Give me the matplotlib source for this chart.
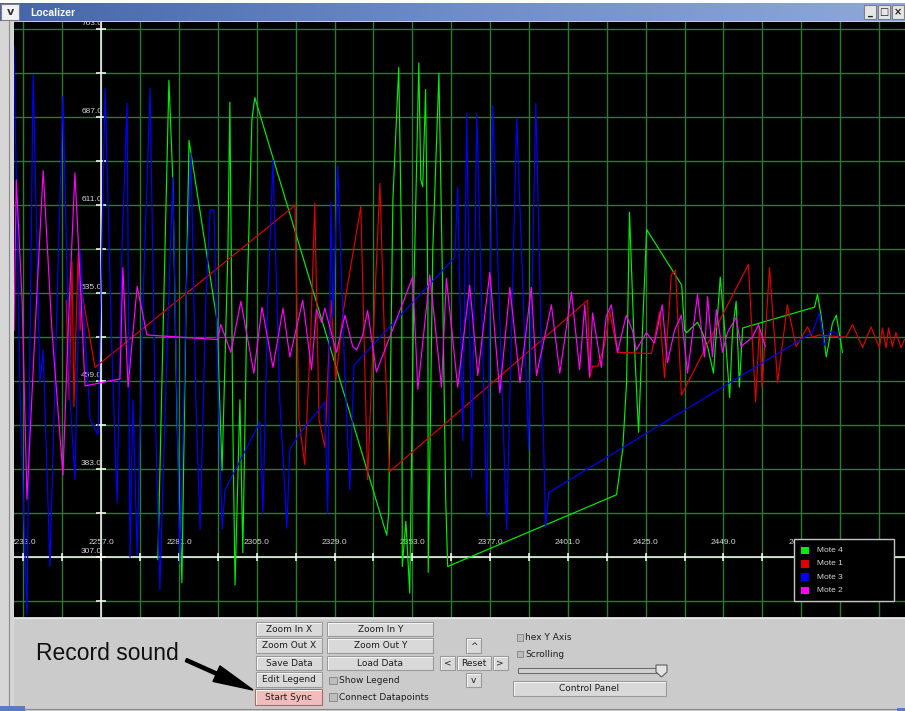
import numpy as np
import matplotlib
matplotlib.use('Agg')
import matplotlib.pyplot as plt
from matplotlib.patches import Rectangle, Polygon, FancyArrow
from matplotlib.colors import LinearSegmentedColormap

mote4_t = [2274.5, 2276.1, 2277.9, 2279.1, 2280.4, 2281.9, 2283.2, 2284.1, 2292.7, 2294.3,
           2296.1, 2296.7, 2297.6, 2298.3, 2299.8, 2300.7, 2302.0, 2303.5, 2304.4, 2345.1,
           2345.7, 2347.0, 2348.8, 2349.7, 2349.9, 2351.0, 2352.2, 2353.4, 2355.0, 2355.6,
           2356.2, 2357.1, 2357.8, 2357.9, 2359.3, 2361.2, 2362.4, 2363.3, 2363.9, 2416.0,
           2417.9, 2419.1, 2420.0, 2421.3, 2422.8, 2424.0, 2425.3, 2436.1, 2437.0, 2437.6,
           2441.0, 2442.5, 2444.1, 2445.9, 2448.0, 2449.8, 2450.9, 2451.8, 2452.9, 2453.9,
           2454.9, 2477.1, 2478.0, 2479.1, 2480.7, 2482.6, 2483.8, 2485.7]
mote4_v = [305, 503, 719, 633, 426, 285, 529, 667, 512, 382,
           572, 700, 426, 283, 443, 311, 529, 685, 704, 326,
           345, 616, 730, 572, 299, 338, 276, 529, 734, 633,
           627, 711, 529, 294, 572, 725, 529, 357, 299, 361,
           400, 458, 605, 503, 415, 503, 590, 542, 503, 501,
           510, 501, 489, 466, 549, 489, 445, 503, 528, 454,
           505, 523, 534, 516, 480, 509, 516, 484]

mote1_t = [2246.2, 2247.1, 2248.0, 2248.6, 2249.2, 2249.9, 2250.5, 2251.1, 2255.1, 2316.8,
           2318.0, 2319.8, 2321.7, 2322.9, 2324.2, 2326.0, 2327.9, 2329.4, 2331.6, 2337.1,
           2339.2, 2341.4, 2343.0, 2344.5, 2346.0, 2407.1, 2407.7, 2408.6, 2410.2, 2412.3,
           2413.9, 2416.3, 2426.8, 2429.3, 2430.8, 2432.9, 2434.2, 2436.0, 2456.7, 2457.9,
           2458.9, 2460.1, 2460.9, 2463.2, 2465.7, 2468.7, 2471.4, 2474.9, 2476.4, 2478.6,
           2486.8, 2488.8, 2491.9, 2494.5, 2497.1, 2498.0, 2499.2, 2499.9, 2501.1, 2502.2,
           2503.8, 2504.8]
mote1_v = [529, 443, 562, 437, 503, 570, 503, 535, 471, 611,
           426, 387, 503, 613, 426, 402, 529, 460, 518, 610,
           374, 529, 630, 486, 381, 529, 462, 472, 472, 490,
           519, 484, 483, 519, 462, 551, 555, 447, 560, 495,
           441, 506, 454, 557, 458, 525, 489, 506, 497, 499,
           497, 508, 488, 506, 488, 505, 488, 505, 489, 501,
           488, 495]

mote3_t = [2230.1, 2232.0, 2234.1, 2236.0, 2238.1, 2239.1, 2241.2, 2243.4, 2245.2, 2247.4,
           2248.9, 2250.5, 2251.7, 2253.6, 2256.0, 2258.2, 2260.3, 2261.9, 2263.4, 2265.0,
           2265.9, 2266.8, 2268.1, 2269.9, 2272.1, 2273.6, 2275.1, 2277.3, 2279.1, 2281.3,
           2283.2, 2284.7, 2286.2, 2287.5, 2289.3, 2290.6, 2291.8, 2293.0, 2294.3, 2295.2,
           2306.0, 2306.9, 2308.4, 2310.0, 2312.1, 2314.3, 2315.2, 2318.3, 2326.0, 2326.9,
           2327.9, 2328.5, 2330.0, 2331.9, 2333.7, 2335.0, 2366.1, 2367.0, 2368.6, 2369.8,
           2371.3, 2372.9, 2376.0, 2377.8, 2382.1, 2385.2, 2388.9, 2391.1, 2394.1, 2395.1,
           2476.4, 2478.6, 2480.1, 2481.7, 2483.2, 2484.8]
mote3_v = [748, 443, 257, 724, 458, 486, 299, 529, 705, 443,
           374, 572, 512, 426, 413, 712, 486, 354, 572, 699,
           307, 443, 309, 529, 712, 443, 279, 486, 635, 302,
           529, 656, 443, 331, 529, 607, 607, 460, 331, 365,
           424, 345, 529, 650, 443, 332, 400, 414, 441, 345,
           614, 514, 645, 486, 365, 473, 566, 627, 408, 691,
           376, 690, 342, 697, 331, 686, 400, 699, 333, 363,
           501, 518, 490, 501, 502, 497]

mote2_t = [2230.1, 2230.8, 2232.6, 2234.1, 2236.6, 2239.1, 2241.8, 2245.2, 2246.8, 2248.9,
           2250.5, 2252.0, 2262.8, 2263.7, 2265.3, 2268.1, 2271.1, 2293.0, 2293.9, 2297.0,
           2300.1, 2304.1, 2306.6, 2310.0, 2313.1, 2315.2, 2319.2, 2321.9, 2323.4, 2325.0,
           2326.0, 2329.6, 2332.2, 2334.6, 2335.8, 2337.7, 2339.2, 2341.9, 2353.1, 2354.7,
           2358.4, 2362.0, 2363.5, 2367.0, 2370.7, 2373.2, 2376.9, 2380.0, 2383.1, 2386.2,
           2389.7, 2391.3, 2395.9, 2398.5, 2402.1, 2404.6, 2406.2, 2407.7, 2408.6, 2411.3,
           2412.8, 2414.4, 2416.3, 2419.0, 2420.9, 2422.1, 2425.2, 2427.7, 2430.1, 2431.7,
           2433.9, 2436.0, 2437.9, 2441.0, 2443.1, 2444.1, 2445.6, 2446.8, 2448.7, 2450.2,
           2452.9, 2454.4, 2457.9, 2459.8, 2461.9]
mote2_v = [503, 633, 529, 357, 503, 641, 503, 378, 503, 639,
           547, 455, 461, 557, 454, 541, 499, 495, 508, 484,
           528, 466, 523, 471, 522, 480, 529, 469, 521, 510,
           522, 484, 516, 489, 486, 499, 520, 467, 549, 452,
           551, 454, 548, 454, 542, 464, 553, 449, 540, 458,
           540, 464, 525, 466, 536, 469, 525, 463, 518, 471,
           515, 525, 484, 516, 503, 486, 501, 492, 525, 475,
           503, 516, 466, 534, 480, 532, 480, 521, 484, 501,
           514, 489, 497, 508, 489]

legend_names = ['Mote 4', 'Mote 1', 'Mote 3', 'Mote 2']
legend_colors = ['#00ee00', '#e00000', '#0000ff', '#ff00ff']

x_label_vals = [2233, 2257, 2281, 2305, 2329, 2353, 2377, 2401, 2425, 2449, 2473]
y_label_vals = [763, 687, 611, 535, 459, 383, 307]

W, H = 905, 711
PANEL = '#cbcbcb'
GRID = '#2a7c2a'
LBL = '#d6d6d6'

fig = plt.figure(figsize=(W / 100, H / 100), dpi=100)
fig.patch.set_facecolor(PANEL)

# --- area do grafico ---
ax = fig.add_axes([14 / W, 1 - 617 / H, 891 / W, 595 / H], zorder=1)
ax.set_facecolor('black')
ax.set_xlim(2230.1, 2505.0)
ax.set_ylim(255.4, 769.3)
ax.set_xticks([])
ax.set_yticks([])
for sp in ax.spines.values():
    sp.set_visible(False)

grid_x = np.arange(2233, 2498, 12)
grid_y = np.arange(269, 764, 38)
for gx in grid_x:
    ax.axvline(gx, color=GRID, lw=1.0, zorder=1)
for gy in grid_y:
    ax.axhline(gy, color=GRID, lw=1.0, zorder=1)

ax.axvline(2257, color='white', lw=1.1, zorder=2)
ax.axhline(307, color='white', lw=1.1, zorder=2)
ax.vlines(grid_x, 307 - 3.5, 307 + 3.5, color='white', lw=1.1, zorder=2)
ax.hlines(grid_y, 2257 - 1.45, 2257 + 1.45, color='white', lw=1.1, zorder=2)

for v in x_label_vals:
    ax.text(v, 319.5, f'{v:.1f}', ha='center', va='center', color=LBL,
            fontsize=6, family='Liberation Sans', zorder=2.5)
for v in y_label_vals:
    ax.text(2257.3, v + 4.9, f'{v:.1f}', ha='right', va='center', color=LBL,
            fontsize=6, family='Liberation Sans', zorder=2.5)

ax.plot(mote4_t, mote4_v, color=legend_colors[0], lw=0.85, zorder=3)
ax.plot(mote1_t, mote1_v, color=legend_colors[1], lw=0.85, zorder=3)
ax.plot(mote3_t, mote3_v, color=legend_colors[2], lw=0.85, zorder=3)
ax.plot(mote2_t, mote2_v, color=legend_colors[3], lw=0.85, zorder=3)

# --- janela / painel de controle (coordenadas em pixel) ---
ov = fig.add_axes([0, 0, 1, 1], zorder=2)
ov.axis('off')

tb_cmap = LinearSegmentedColormap.from_list('tb', ['#4565a8', '#6e8cc8', '#8ea8d8'])
ov.imshow(np.linspace(0, 1, 256)[None, :], extent=(0, W, 21, 3), cmap=tb_cmap,
          aspect='auto', zorder=1)
ov.add_patch(Rectangle((0, 0), W, 3, facecolor='white', edgecolor='none', zorder=1))
ov.add_patch(Rectangle((1, 4), 18, 16, facecolor='#f2f2f2', edgecolor='#808080', lw=0.8, zorder=2))
ov.text(10, 12, 'v', ha='center', va='center', fontsize=8, fontweight='bold', color='#303030', zorder=3)
ov.text(30, 12.5, 'Localizer', ha='left', va='center', fontsize=7.5, fontweight='bold',
        color='white', family='Liberation Sans', zorder=3)
for bx, glyph in [(864, '_'), (878, '□'), (892, '×')]:
    ov.add_patch(Rectangle((bx, 5), 12, 14, facecolor='#e6e6e6', edgecolor='#808080', lw=0.8, zorder=2))
    ov.text(bx + 6, 12, glyph, ha='center', va='center', fontsize=7, fontweight='bold',
            color='#202020', zorder=3)

# borda esquerda e inferior
ov.add_patch(Rectangle((0, 21), 14, 690, facecolor='#d6d6d6', edgecolor='none', zorder=1))
ov.plot([8.5, 8.5], [21, 708], color='#8a8a8a', lw=0.8, zorder=2)
ov.plot([8.5, W], [708.5, 708.5], color='#8a8a8a', lw=0.8, zorder=2)
ov.plot([14, W], [617.5, 617.5], color='#e8e8e8', lw=0.8, zorder=2)
ov.add_patch(Rectangle((0, 706), 25, 5, facecolor='#5b7bc0', edgecolor='none', zorder=2))
ov.add_patch(Rectangle((897, 708), 8, 3, facecolor='#5b7bc0', edgecolor='none', zorder=2))


def button(x0, y0, x1, y1, label, face='#d9d9d9', edge='#9a9a9a'):
    ov.add_patch(Rectangle((x0, y0), x1 - x0, y1 - y0, facecolor=face, edgecolor=edge,
                           lw=0.8, zorder=2))
    ov.plot([x0 + 1, x1 - 1], [y0 + 1, y0 + 1], color='#f4f4f4', lw=0.7, zorder=3)
    ov.plot([x0 + 1, x0 + 1], [y0 + 1, y1 - 1], color='#f4f4f4', lw=0.7, zorder=3)
    ov.text((x0 + x1) / 2, (y0 + y1) / 2 + 0.5, label, ha='center', va='center',
            fontsize=6.5, color='#1e1e1e', zorder=4)


def checkbox(x, y, label):
    ov.add_patch(Rectangle((x, y - 3.7), 7.4, 7.4, facecolor='#bdbdbd', edgecolor='#8c8c8c',
                           lw=0.7, zorder=2))
    ov.text(x + 9.5, y, label, ha='left', va='center', fontsize=6.5, color='#1e1e1e', zorder=4)


button(256, 621.7, 321.7, 636, 'Zoom In X')
button(256, 638.3, 321.7, 652.7, 'Zoom Out X')
button(256, 655.7, 321.7, 670, 'Save Data')
button(256, 672.3, 321.7, 686.7, 'Edit Legend')
button(255, 688.7, 322.3, 704.7, 'Start Sync', face='#f3bcbc', edge='#a86a6a')
button(327.3, 621.7, 433.3, 636, 'Zoom In Y')
button(327.3, 638.3, 433.3, 652.7, 'Zoom Out Y')
button(327.3, 655.7, 433.3, 670, 'Load Data')
checkbox(329.3, 680.3, 'Show Legend')
checkbox(329.3, 697, 'Connect Datapoints')

button(466, 638.3, 480.7, 653.3, '^')
button(440, 655.7, 455, 670, '<')
button(456.7, 655.7, 490.7, 670, 'Reset')
button(492.7, 655.7, 507.7, 670, '>')
button(466, 672.7, 480.7, 687.3, 'v')

ov.add_patch(Rectangle((516.7, 634), 6.6, 6.6, facecolor='#bdbdbd', edgecolor='#8c8c8c', lw=0.7, zorder=2))
ov.text(525, 637.7, 'hex Y Axis', ha='left', va='center', fontsize=6.5, color='#1e1e1e', zorder=4)
ov.add_patch(Rectangle((516.7, 650.7), 6.6, 6.6, facecolor='#bdbdbd', edgecolor='#8c8c8c', lw=0.7, zorder=2))
ov.text(525, 654.3, 'Scrolling', ha='left', va='center', fontsize=6.5, color='#1e1e1e', zorder=4)

ov.add_patch(Rectangle((518.3, 668.3), 145, 4.4, facecolor='#d2d2d2', edgecolor='#6e6e6e', lw=0.8, zorder=2))
ov.add_patch(Polygon([(656, 665), (667, 665), (667, 672), (661.5, 677), (656, 672)],
                     closed=True, facecolor='#e4e4e4', edgecolor='#5e5e5e', lw=0.8, zorder=3))
button(513.3, 680.7, 665.7, 695.7, 'Control Panel')

# anotacao
ov.text(36, 654, 'Record sound', ha='left', va='center', fontsize=16.5,
        family='Liberation Sans', color='#111111', zorder=4)
ov.add_patch(FancyArrow(186, 660, 253 - 186, 690 - 660, width=3.2, head_width=17,
                        head_length=40, length_includes_head=True, color='black', zorder=4))

# legenda
ov.add_patch(Rectangle((793.7, 539.3), 100, 62, facecolor='black', edgecolor='#c4c4c4',
                       lw=1.0, zorder=5))
for i, (name, c) in enumerate(zip(legend_names, legend_colors)):
    ry = 550.5 + 13.3 * i
    ov.add_patch(Rectangle((801, ry - 3.8), 7.6, 7.6, facecolor=c, edgecolor='none', zorder=6))
    ov.text(816.5, ry, name, ha='left', va='center', fontsize=6, color=LBL,
            family='Liberation Sans', zorder=6)

ov.set_xlim(0, W)
ov.set_ylim(H, 0)

fig.savefig('out.png', dpi=100, facecolor=fig.get_facecolor())
